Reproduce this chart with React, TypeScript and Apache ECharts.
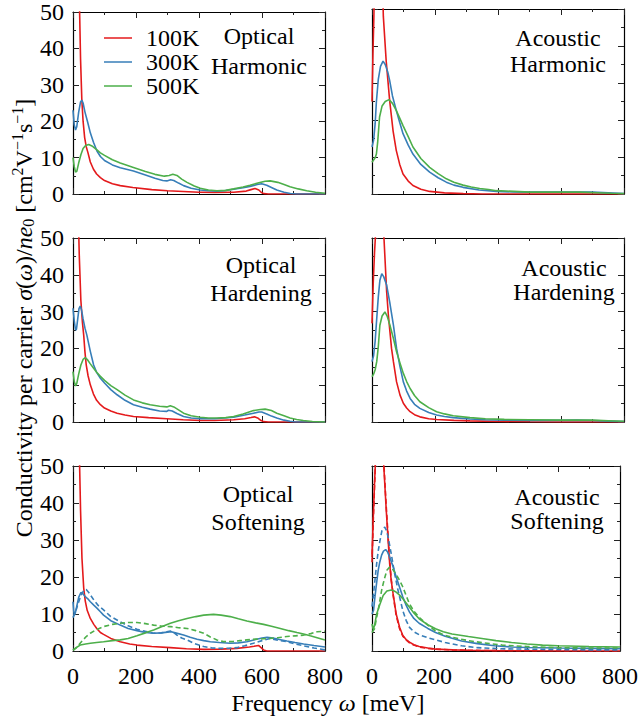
import React, { useEffect, useRef } from 'react';
import * as echarts from 'echarts';

const FONT = "'Liberation Serif', 'Times New Roman', serif";
const FS = 24;
const RED = '#e41a1c';
const BLUE = '#377eb8';
const GREEN = '#4daf4a';

const temps = ['100K', '300K', '500K'];
const xMin = 0, xMax = 800, xStep = 200;
const yMin = 0, yMax = 50, yStep = 10;

const panelTitles: string[][] = [
  ['Optical', 'Harmonic'], ['Acoustic', 'Harmonic'],
  ['Optical', 'Hardening'], ['Acoustic', 'Hardening'],
  ['Optical', 'Softening'], ['Acoustic', 'Softening'],
];

type P = [number, number][];

// Optical Harmonic
const opHarm100: P = [[0,400],[8,200],[14,110],[18,70],[21,50],[24,37],[28,26],[32,20],[37,15.5],[42,13],[47,11.5],[55,8.8],[65,6.8],[75,5.5],[87,4.5],[100,3.7],[125,2.8],[150,2.3],[190,1.8],[250,1.2],[300,0.9],[350,0.7],[400,0.5],[450,0.45],[510,0.5],[550,0.8],[565,1.2],[578,1.5],[590,1.1],[598,0.4],[606,0.1],[620,0],[800,0]];
const opHarm300: P = [[0,23],[4,19],[8,17.6],[12,18.5],[18,22.5],[24,25.3],[28,25.8],[32,25],[38,22.5],[46,19.9],[55,16.8],[65,14.2],[76,11.8],[87,10.3],[100,9.2],[125,8],[150,7.2],[192,6.3],[230,5.2],[260,4.3],[285,3.7],[298,3.6],[310,3.9],[320,3.7],[335,3],[351,2.3],[375,1.6],[404,1.1],[430,0.9],[457,0.8],[480,0.9],[510,1.3],[540,1.7],[562,2.1],[585,2.6],[599,2.8],[615,2.4],[630,1.8],[647,1.1],[670,0.5],[690,0.15],[710,0],[800,0]];
const opHarm500: P = [[0,10],[4,7.5],[8,6],[12,6.2],[18,8.5],[25,10.8],[32,12.5],[40,13.3],[50,13.6],[60,13.2],[75,12.2],[87,11.3],[100,10.6],[125,9.4],[150,8.5],[192,7.3],[230,6.2],[260,5.4],[290,4.9],[305,5.1],[317,5.4],[330,5.1],[345,4.1],[362,3.2],[385,2.2],[404,1.6],[430,1.1],[457,0.9],[485,1.0],[510,1.4],[540,1.9],[562,2.4],[590,3.1],[610,3.5],[626,3.6],[650,3.2],[670,2.6],[689,2.0],[715,1.4],[742,0.9],[770,0.5],[800,0.2]];

// Acoustic Harmonic
const acHarm100: P = [[0,25],[3,38],[6,48],[10,70],[20,110],[28,80],[33,58],[36,48],[45,36],[56,25.3],[67,17],[77,11.8],[88,8],[98.5,5.4],[115,3.5],[130,2.3],[155,1.3],[183,0.7],[230,0.3],[290,0.1],[350,0],[800,0]];
const acHarm300: P = [[0,12.7],[5,14.5],[10,19],[14,25],[20,31],[27,34.5],[35,35.9],[42,35],[50,33],[56,30.7],[65,26.5],[77,22.6],[88,19.3],[98.5,16.3],[115,13.2],[130,10.8],[155,8],[183,5.9],[210,4.4],[236,3.2],[260,2.4],[289,1.8],[340,1.1],[395,0.7],[450,0.55],[500,0.5],[600,0.5],[650,0.55],[700,0.5],[750,0.35],[800,0.1]];
const acHarm500: P = [[0,8.6],[5,9.2],[10,9.8],[14,10.8],[18,14],[24,20.8],[32,23.8],[42,25],[54,25.5],[65,24.5],[77,22.6],[88,20.5],[98.5,18.5],[115,15.5],[130,12.7],[155,9.6],[183,7.2],[210,5.5],[236,4.1],[260,3.2],[289,2.4],[315,1.9],[342,1.5],[370,1.2],[395,0.9],[450,0.7],[501,0.5],[550,0.5],[607,0.5],[660,0.5],[713,0.35],[760,0.2],[800,0.1]];

// Optical Hardening
const opHard100: P = [[0,400],[8,200],[13,110],[16,70],[18,52],[20,45],[25,33],[30,27],[34,23.6],[38,19],[42,15.5],[48,12.5],[55,10.1],[65,7.6],[75,5.9],[87,4.7],[100,3.8],[120,3],[140,2.4],[165,1.9],[192,1.5],[240,1.2],[298,0.9],[350,0.6],[404,0.4],[450,0.4],[510,0.6],[545,0.9],[565,1.2],[576,1.4],[588,1.0],[597,0.4],[605,0.1],[620,0],[800,0]];
const opHard300: P = [[0,30.9],[4,27.5],[8,25],[11,25.2],[15,28],[19,30.8],[23,31.5],[27,30.5],[32,28],[38,25.5],[44,23.6],[55,19.2],[65.5,15.5],[75,13.5],[87,11.9],[100,10.6],[120,8.8],[140,7.4],[165,5.9],[192,4.7],[220,4],[245,3.5],[275,3.0],[298,2.9],[303,3.2],[315,3.0],[330,2.3],[351,1.5],[375,1.1],[404,0.9],[450,0.9],[510,1.3],[545,1.9],[573,2.4],[590,2.7],[599,2.7],[615,2.2],[630,1.6],[647,1.1],[670,0.5],[689,0.2],[705,0],[800,0]];
const opHard500: P = [[0,13.7],[4,11],[8,9.8],[12,10.5],[18,13],[25,15.5],[32,17],[39,17.5],[47,16.8],[55,15.8],[65.5,14.6],[75,13.5],[87,12.4],[100,11.3],[120,9.9],[140,8.8],[165,7.3],[192,6.0],[220,5.2],[245,4.7],[275,4.3],[298,4.1],[309,4.4],[320,4.1],[335,3.3],[351,2.4],[375,1.7],[404,1.3],[430,1.1],[457,1.1],[485,1.2],[510,1.5],[540,2.2],[573,3.1],[595,3.4],[610,3.5],[630,3.1],[647,2.4],[670,1.7],[689,1.1],[710,0.7],[731,0.4],[760,0.15],[800,0]];

// Acoustic Hardening
const acHard100: P = [[0,26.8],[4,38],[8,46],[10.6,50],[15,70],[22,90],[30,70],[35,55],[38,50],[46.5,35.4],[52,29],[57,24.5],[62,20],[68,16.4],[78,10.9],[89,7.3],[99.5,5.1],[110,3.8],[121,2.8],[135,2],[152,1.4],[180,0.9],[205,0.7],[260,0.45],[311,0.3],[400,0.15],[500,0.05],[600,0],[800,0]];
const acHard300: P = [[0,16.4],[5,18],[10,22],[15,28.1],[20,34],[25,38.5],[31,40.3],[37,39.5],[46.5,37.2],[57,32.2],[68,26.3],[78,20],[89,15],[99.5,10.9],[110,8.4],[121,6.4],[135,4.8],[152,3.7],[180,2.6],[205,1.9],[230,1.5],[258,1.2],[311,0.8],[360,0.6],[420,0.5],[500,0.45],[600,0.45],[650,0.5],[700,0.4],[750,0.25],[800,0.1]];
const acHard500: P = [[0,12.3],[5,13],[10,14.2],[15,16.4],[20,20.5],[25,26.3],[32,28.8],[41,29.9],[48,28.8],[57,26.3],[68,22.7],[78,19.1],[89,16],[99.5,13.2],[110,11],[121,9.1],[135,7.2],[152,5.5],[180,3.9],[205,2.8],[230,2.2],[258,1.7],[311,1.2],[360,0.9],[420,0.7],[500,0.6],[600,0.5],[650,0.55],[700,0.5],[750,0.35],[800,0.2]];

// Optical Softening
const opSoft100: P = [[0,400],[8,200],[14,110],[18,70],[21,50],[24,38],[28.5,25],[34,17],[39,13.5],[45,11],[55,8.8],[66,7.2],[76,6],[87,5.0],[97,4.5],[120,3.4],[150,2.5],[180,1.9],[203,1.6],[250,1.2],[309,0.9],[360,0.6],[415,0.45],[470,0.5],[520,0.7],[560,1.1],[575,1.3],[589,1.5],[597,0.9],[605,0.3],[615,0],[800,0]];
const opSoft300: P = [[0,13.3],[2,11],[4,9.7],[8,10.5],[13,12.5],[18,14.5],[25,15.8],[30,15.6],[38,14.8],[47,14.1],[55,13.3],[66,12.4],[76,11.6],[87,10.6],[97,9.7],[120,8.2],[150,7.0],[175,6.1],[203,5.5],[230,5.0],[256,4.8],[280,4.9],[300,5.1],[312,5.2],[325,4.9],[351,4.3],[372,3.7],[394,3.2],[415,2.8],[436,2.5],[465,2.3],[499,2.1],[525,2.2],[552,2.5],[580,3.1],[600,3.5],[616,3.7],[635,3.5],[655,3.1],[679,2.7],[705,2.3],[732,1.9],[765,1.5],[800,1.1]];
const opSoft500: P = [[0,0.3],[8,0.8],[23,1.6],[40,1.9],[55,2.1],[75,2.3],[97,2.5],[125,2.8],[150,3.0],[175,3.4],[203,4.1],[230,4.9],[256,5.7],[283,6.6],[309,7.5],[335,8.2],[362,8.8],[390,9.3],[415,9.7],[446,9.9],[470,9.7],[499,9.3],[525,8.7],[552,8.1],[580,7.6],[605,7.2],[630,6.7],[658,6.1],[685,5.5],[711,5.0],[732,4.6],[753,4.1],[775,3.6],[800,3.0]];
const opSoft300Dash: P = [[0,9],[8,10.5],[15,12.5],[25,15],[35,16.5],[42,16.6],[50,15.8],[66,13.8],[80,12.3],[97,11.1],[120,9.3],[150,7.9],[175,6.8],[203,5.9],[230,5.3],[256,4.8],[280,4.9],[298,5.2],[309,5.4],[320,5.0],[330,4.3],[345,3.5],[362,3.0],[385,2.0],[415,1.2],[440,0.85],[468,0.7],[495,0.75],[520,0.9],[545,1.4],[573,2.1],[600,2.8],[626,3.4],[650,2.9],[679,2.5],[705,1.9],[732,1.4],[765,0.8],[800,0.3]];
const opSoft500Dash: P = [[0,0.2],[10,0.8],[20,1.8],[30,2.8],[42,3.9],[55,4.8],[75,5.8],[97,6.6],[125,7.2],[150,7.5],[175,7.7],[203,7.7],[230,7.4],[256,7.0],[283,6.7],[309,6.6],[335,6.3],[362,6.1],[390,5.5],[415,4.8],[436,3.8],[457,3.0],[475,2.6],[489,2.5],[510,2.6],[530,2.8],[552,3.0],[580,3.2],[605,3.3],[626,3.4],[650,3.6],[679,3.9],[705,4.1],[732,4.3],[755,4.7],[775,5.2],[800,5.3]];

// Acoustic Softening
const acSoft100: P = [[0,25.4],[4,36],[8,45],[10.6,50],[15,70],[22,90],[30,70],[35,55],[38,50],[46,38],[52,30],[57,23.6],[62,19],[68,15.5],[78,10],[89,6.4],[99.5,4.2],[110,3.1],[121,2.4],[135,1.7],[152,1.2],[180,0.8],[205,0.5],[260,0.3],[311,0.2],[400,0.1],[500,0.05],[600,0],[800,0]];
const acSoft300: P = [[0,10],[5,11],[9.5,14.6],[15,18.5],[20,21.8],[25,24],[31,25.9],[37,27],[44,27.4],[50,26.8],[57,25.4],[68,22.8],[78,20],[89,17.2],[99.5,14.6],[110,12.4],[121,10.5],[135,8.8],[152,7.5],[180,6.1],[205,5.0],[236,4.0],[289,2.7],[340,2.0],[395,1.4],[450,1.1],[500,0.95],[600,0.8],[700,0.7],[800,0.6]];
const acSoft500: P = [[0,7.3],[4,5.8],[8,6.8],[15,10],[25,12.5],[36,15],[48,16.2],[62,16.5],[70,16.3],[78,15.9],[89,15.1],[99.5,14.1],[110,13],[121,11.8],[135,10.3],[152,8.7],[180,7.1],[205,6.0],[230,5.2],[258,4.6],[311,3.9],[360,3.3],[400,2.8],[450,2.3],[500,1.9],[550,1.6],[600,1.4],[700,1.2],[800,1.1]];
const acSoft100Dash: P = [[0,24],[4,35],[8,44],[10.6,50],[15,72],[22,92],[30,72],[35,56],[38,51],[46,39],[52,31],[57,24.5],[62,19.5],[68,15.2],[78,9.6],[89,6.0],[99.5,4.0],[110,3.0],[121,2.2],[135,1.6],[152,1.1],[180,0.7],[205,0.5],[260,0.3],[311,0.2],[400,0.1],[800,0]];
const acSoft300Dash: P = [[0,12],[4,14.6],[10,19.5],[15,23.6],[20,27],[25,29.5],[32,32.5],[41,33.5],[47,32.5],[52,30.8],[62,26.3],[73,20.9],[84,16.4],[99.5,10.9],[110,8.3],[121,6.4],[135,5.2],[152,4.4],[180,3.6],[205,3.0],[236,2.3],[289,1.4],[340,0.9],[420,0.6],[500,0.5],[600,0.4],[700,0.3],[800,0.3]];
const acSoft500Dash: P = [[0,5],[8,6],[15,9],[22,12],[31,16.4],[40,19.5],[48,21.8],[57,22.7],[65,22.3],[73,21.3],[81,20.2],[89,19.1],[99.5,17.3],[110,15],[121,12.7],[135,10.8],[152,9.1],[180,7],[205,5.4],[230,4.4],[258,3.7],[311,2.8],[360,2.2],[420,1.6],[500,1.2],[600,0.9],[700,0.8],[800,0.8]];

const solidCurves: P[][] = [
  [opHarm100, opHarm300, opHarm500],
  [acHarm100, acHarm300, acHarm500],
  [opHard100, opHard300, opHard500],
  [acHard100, acHard300, acHard500],
  [opSoft100, opSoft300, opSoft500],
  [acSoft100, acSoft300, acSoft500],
];
const dashedCurves: (P | null)[][] = [
  [null, null, null], [null, null, null], [null, null, null], [null, null, null],
  [null, opSoft300Dash, opSoft500Dash],
  [acSoft100Dash, acSoft300Dash, acSoft500Dash],
];

const COLORS = [RED, BLUE, GREEN];
const COL_LEFT = [73, 372];
const ROW_TOP = [9, 238, 466];
const ROW_H = [185, 184, 185];
const GRID_W = 252;

// title line positions [cx, y1, y2]
const TITLE_POS = [
  [259, 36, 66], [558, 38, 64],
  [261, 265, 293], [564, 268, 292],
  [258, 494, 522], [557, 497, 521],
];

export default function App() {
  const ref = useRef<HTMLDivElement>(null);
  useEffect(() => {
    if (!ref.current) return;
    const chart = echarts.init(ref.current, undefined, { renderer: 'svg' });
    const grids: any[] = [];
    const xAxes: any[] = [];
    const yAxes: any[] = [];
    const series: any[] = [];
    const graphics: any[] = [];
    const tickColor = '#222';
    for (let p = 0; p < 6; p++) {
      const r = Math.floor(p / 2), c = p % 2;
      grids.push({ left: COL_LEFT[c], top: ROW_TOP[r], width: GRID_W, height: ROW_H[r], containLabel: false });
      const xBase = {
        type: 'value', gridIndex: p, min: xMin, max: xMax, interval: xStep,
        axisLine: { show: true, onZero: false, lineStyle: { color: '#000', width: 1.2 } },
        axisTick: { show: true, inside: true, length: 6, lineStyle: { color: tickColor, width: 1 } },
        minorTick: { show: true, splitNumber: 2, length: 3, lineStyle: { color: tickColor, width: 1 } },
        splitLine: { show: false },
      };
      xAxes.push({ ...xBase, position: 'bottom',
        axisLabel: { show: r === 2, fontSize: FS, fontFamily: FONT, color: '#000', margin: 13, showMinLabel: true, showMaxLabel: true } });
      xAxes.push({ ...xBase, position: 'top', axisLabel: { show: false } });
      const yBase = {
        type: 'value', gridIndex: p, min: yMin, max: yMax, interval: yStep,
        axisLine: { show: true, onZero: false, lineStyle: { color: '#000', width: 1.2 } },
        axisTick: { show: true, inside: true, length: 6, lineStyle: { color: tickColor, width: 1 } },
        minorTick: { show: true, splitNumber: 2, length: 3, lineStyle: { color: tickColor, width: 1 } },
        splitLine: { show: false },
      };
      yAxes.push({ ...yBase, position: 'left',
        axisLabel: { show: c === 0, fontSize: FS, fontFamily: FONT, color: '#000', margin: 9, showMinLabel: true, showMaxLabel: true } });
      yAxes.push({ ...yBase, position: 'right', axisLabel: { show: false } });

      for (let t = 0; t < 3; t++) {
        series.push({
          type: 'line', name: temps[t], xAxisIndex: 2 * p, yAxisIndex: 2 * p,
          data: solidCurves[p][t], symbol: 'none', showSymbol: false, clip: true, silent: true,
          color: COLORS[t], lineStyle: { color: COLORS[t], width: 1.6 }, z: 3 + t,
        });
      }
      for (let t = 0; t < 3; t++) {
        const d = dashedCurves[p][t];
        if (!d) continue;
        series.push({
          type: 'line', name: temps[t] + ' dashed', xAxisIndex: 2 * p, yAxisIndex: 2 * p,
          data: d, symbol: 'none', showSymbol: false, clip: true, silent: true,
          color: COLORS[t], lineStyle: { color: COLORS[t], width: 1.6, type: [5, 3] }, z: 3 + t,
        });
      }
      const tp = TITLE_POS[p];
      panelTitles[p].forEach((line, i) => {
        graphics.push({
          type: 'text', x: tp[0], y: tp[1 + i], silent: true,
          style: { text: line, fontSize: FS, fontFamily: FONT, fill: '#000', textAlign: 'center', textVerticalAlign: 'middle' },
        });
      });
    }
    graphics.push({
      type: 'text', x: 328, y: 703, silent: true,
      style: {
        text: 'Frequency {i|ω} [meV]', fontSize: FS, fontFamily: FONT, fill: '#000',
        textAlign: 'center', textVerticalAlign: 'middle',
        rich: { i: { fontStyle: 'italic', fontSize: FS, fontFamily: FONT, fill: '#000' } },
      },
    });
    graphics.push({
      type: 'text', x: 24, y: 318, rotation: Math.PI / 2, silent: true,
      style: {
        text: 'Conductivity per carrier {i|σ}({i|ω})/{i|ne}{sub|0} [cm{sup|2}V{sup|−1}s{sup|−1}]',
        fontSize: FS, fontFamily: FONT, fill: '#000',
        textAlign: 'center', textVerticalAlign: 'middle',
        rich: {
          i: { fontStyle: 'italic', fontSize: FS, fontFamily: FONT, fill: '#000' },
          sup: { fontSize: 16, fontFamily: FONT, fill: '#000', padding: [0, 0, 14, 0] },
          sub: { fontSize: 16, fontFamily: FONT, fill: '#000', padding: [8, 0, 0, 0] },
        },
      },
    });

    chart.setOption({
      animation: false,
      backgroundColor: '#fff',
      textStyle: { fontFamily: FONT },
      legend: {
        data: temps, orient: 'vertical', left: 99, top: 21,
        icon: 'rect', itemWidth: 28, itemHeight: 1.5, itemGap: 0,
        formatter: '{t|{name}}',
        textStyle: {
          fontSize: FS, fontFamily: FONT, color: '#000', lineHeight: 24,
          rich: { t: { fontSize: FS, fontFamily: FONT, color: '#000', lineHeight: 24, padding: [0, 0, 0, 9] } },
        },
        selectedMode: false,
      },
      grid: grids, xAxis: xAxes, yAxis: yAxes, series, graphic: graphics,
    });
    return () => chart.dispose();
  }, []);
  return <div ref={ref} style={{ position: 'fixed', left: 0, top: 0, width: 641, height: 723, background: '#fff' }} />;
}
